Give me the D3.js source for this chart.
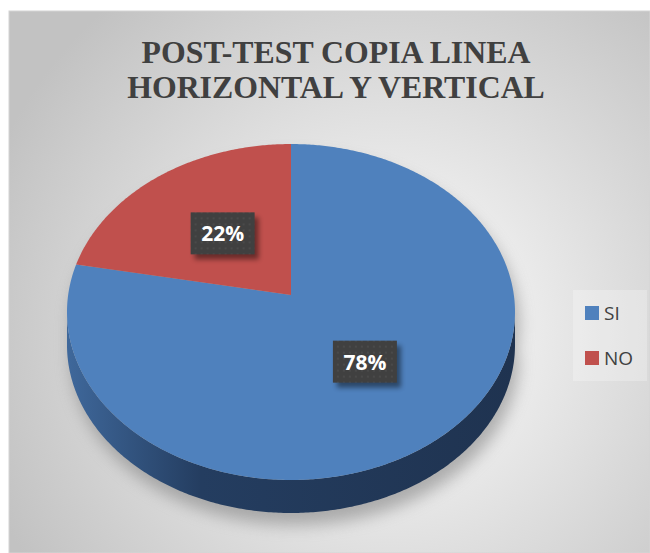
<!DOCTYPE html>
<html>
<head>
<meta charset="utf-8">
<script src="https://cdn.jsdelivr.net/npm/d3@7"></script>
<style>
  body { margin: 0; background: #fff; }
  svg { display: block; }
</style>
</head>
<body>
<script>
// donnees du graphique
const titleLines = ["POST-TEST COPIA LINEA", "HORIZONTAL Y VERTICAL"];
const categories = ["SI", "NO"];
const values = [78, 22];
const colors = ["#4f81bd", "#c0504d"];

const W = 650, H = 553;

const svg = d3.select("body").append("svg")
  .attr("width", W)
  .attr("height", H);

const defs = svg.append("defs");

// fond degrade radial
const bg = defs.append("radialGradient")
  .attr("id", "bg")
  .attr("gradientUnits", "userSpaceOnUse")
  .attr("cx", 390).attr("cy", 330).attr("r", 430);
bg.append("stop").attr("offset", "0%").attr("stop-color", "#ffffff");
bg.append("stop").attr("offset", "100%").attr("stop-color", "#c2c2c2");

// degrade du cote de la part (effet 3D)
const sideGrad = defs.append("linearGradient")
  .attr("id", "side")
  .attr("gradientUnits", "userSpaceOnUse")
  .attr("x1", 67).attr("x2", 515).attr("y1", 0).attr("y2", 0);
sideGrad.append("stop").attr("offset", "0%").attr("stop-color", "#3f689b");
sideGrad.append("stop").attr("offset", "30%").attr("stop-color", "#243d60");
sideGrad.append("stop").attr("offset", "100%").attr("stop-color", "#1f3350");

const blur = defs.append("filter").attr("id", "blur")
  .attr("x", "-20%").attr("y", "-20%").attr("width", "140%").attr("height", "140%");
blur.append("feGaussianBlur").attr("stdDeviation", 8);

const lblShadow = defs.append("filter").attr("id", "lblShadow")
  .attr("x", "-30%").attr("y", "-30%").attr("width", "160%").attr("height", "160%");
lblShadow.append("feGaussianBlur").attr("stdDeviation", 2.5);

// petit motif pointille des etiquettes
const pat = defs.append("pattern").attr("id", "dots")
  .attr("width", 6).attr("height", 6).attr("patternUnits", "userSpaceOnUse");
pat.append("rect").attr("width", 6).attr("height", 6).attr("fill", "#404040");
pat.append("rect").attr("x", 2).attr("y", 2).attr("width", 2).attr("height", 2).attr("fill", "#4a4a4a");

// zone du graphique
svg.append("rect")
  .attr("x", 9).attr("y", 11)
  .attr("width", W - 9).attr("height", H - 11)
  .attr("fill", "url(#bg)")
  .attr("stroke", "#d4d4d4");

// titre
svg.append("text")
  .attr("x", 336)
  .attr("text-anchor", "middle")
  .attr("font-family", "'Liberation Serif', 'Times New Roman', serif")
  .attr("font-weight", "bold")
  .attr("font-size", 31.8)
  .attr("fill", "#404040")
  .selectAll("tspan")
  .data(titleLines)
  .join("tspan")
  .attr("x", 336)
  .attr("y", (d, i) => 63 + i * 35)
  .text(d => d);

// projection en perspective du disque (homographie)
const cx = 291, cy0 = 295;
const pa = 222.85, pb = 136.4, pe = 0.1012;
const depth = 33;
function project(u, v) {
  const w = 1 - pe * v;
  return [cx + pa * u / w, (cy0 + pb * v) / w];
}
// angle d3 (sens horaire depuis midi) -> point sur le disque
function pt(angle, r) {
  return project(r * Math.sin(angle), -r * Math.cos(angle));
}

const pie = d3.pie().sort(null).value(d => d.value);
const data = categories.map((c, i) => ({ cat: c, value: values[i] }));
const arcs = pie(data);
const color = d3.scaleOrdinal().domain(categories).range(colors);
const total = d3.sum(values);
const fmt = d3.format(".0%");
const line = d3.line();

// ombre portee
const outline = d3.range(0, 2 * Math.PI, 0.02).map(a => pt(a, 1));
const phi0 = Math.asin(pe);
const frontTop = d3.range(phi0, Math.PI - phi0, 0.01).map(p => project(Math.cos(p), Math.sin(p)));
const frontBottom = frontTop.map(p => [p[0], p[1] + depth]).reverse();

svg.append("path")
  .attr("d", line(outline.concat(frontTop).concat(frontBottom)) + "Z")
  .attr("transform", "translate(4,12)")
  .attr("fill", "#7a7a7a")
  .attr("opacity", 0.55)
  .attr("filter", "url(#blur)");

// cote visible (devant) : tout dans la part SI
svg.append("path")
  .attr("d", line(frontTop.concat(frontBottom)) + "Z")
  .attr("fill", "url(#side)");

// parts
svg.selectAll("path.slice")
  .data(arcs)
  .join("path")
  .attr("class", "slice")
  .attr("d", d => {
    const pts = [pt(0, 0)];
    const n = Math.max(2, Math.ceil((d.endAngle - d.startAngle) / 0.01));
    d3.range(n + 1).forEach(k => {
      pts.push(pt(d.startAngle + (d.endAngle - d.startAngle) * k / n, 1));
    });
    return line(pts) + "Z";
  })
  .attr("fill", d => color(d.data.cat));

// etiquettes
const bw = 64, bh = 42;
const lbl = svg.selectAll("g.lbl")
  .data(arcs)
  .join("g")
  .attr("class", "lbl")
  .attr("transform", d => {
    const p = pt((d.startAngle + d.endAngle) / 2, 0.5);
    return `translate(${p[0]},${p[1]})`;
  });
lbl.append("rect")
  .attr("x", -bw / 2 + 4).attr("y", -bh / 2 + 5)
  .attr("width", bw).attr("height", bh)
  .attr("fill", "#000").attr("opacity", 0.45)
  .attr("filter", "url(#lblShadow)");
lbl.append("rect")
  .attr("x", -bw / 2).attr("y", -bh / 2)
  .attr("width", bw).attr("height", bh)
  .attr("fill", "url(#dots)");
lbl.append("text")
  .attr("text-anchor", "middle")
  .attr("y", 8)
  .attr("font-family", "'Open Sans', 'Liberation Sans', sans-serif")
  .attr("font-weight", "bold")
  .attr("font-size", 21)
  .attr("fill", "#ffffff")
  .text(d => fmt(d.value / total));

// legende
svg.append("rect")
  .attr("x", 573).attr("y", 290)
  .attr("width", 74).attr("height", 91)
  .attr("fill", "#ffffff").attr("opacity", 0.25);

const leg = svg.selectAll("g.leg")
  .data(categories)
  .join("g")
  .attr("class", "leg")
  .attr("transform", (d, i) => `translate(585,${306 + i * 45})`);
leg.append("rect")
  .attr("width", 14).attr("height", 14)
  .attr("fill", d => color(d));
leg.append("text")
  .attr("x", 19).attr("y", 14)
  .attr("font-family", "'Open Sans', 'Liberation Sans', sans-serif")
  .attr("font-size", 19)
  .attr("fill", "#404040")
  .text(d => d);
</script>
</body>
</html>
